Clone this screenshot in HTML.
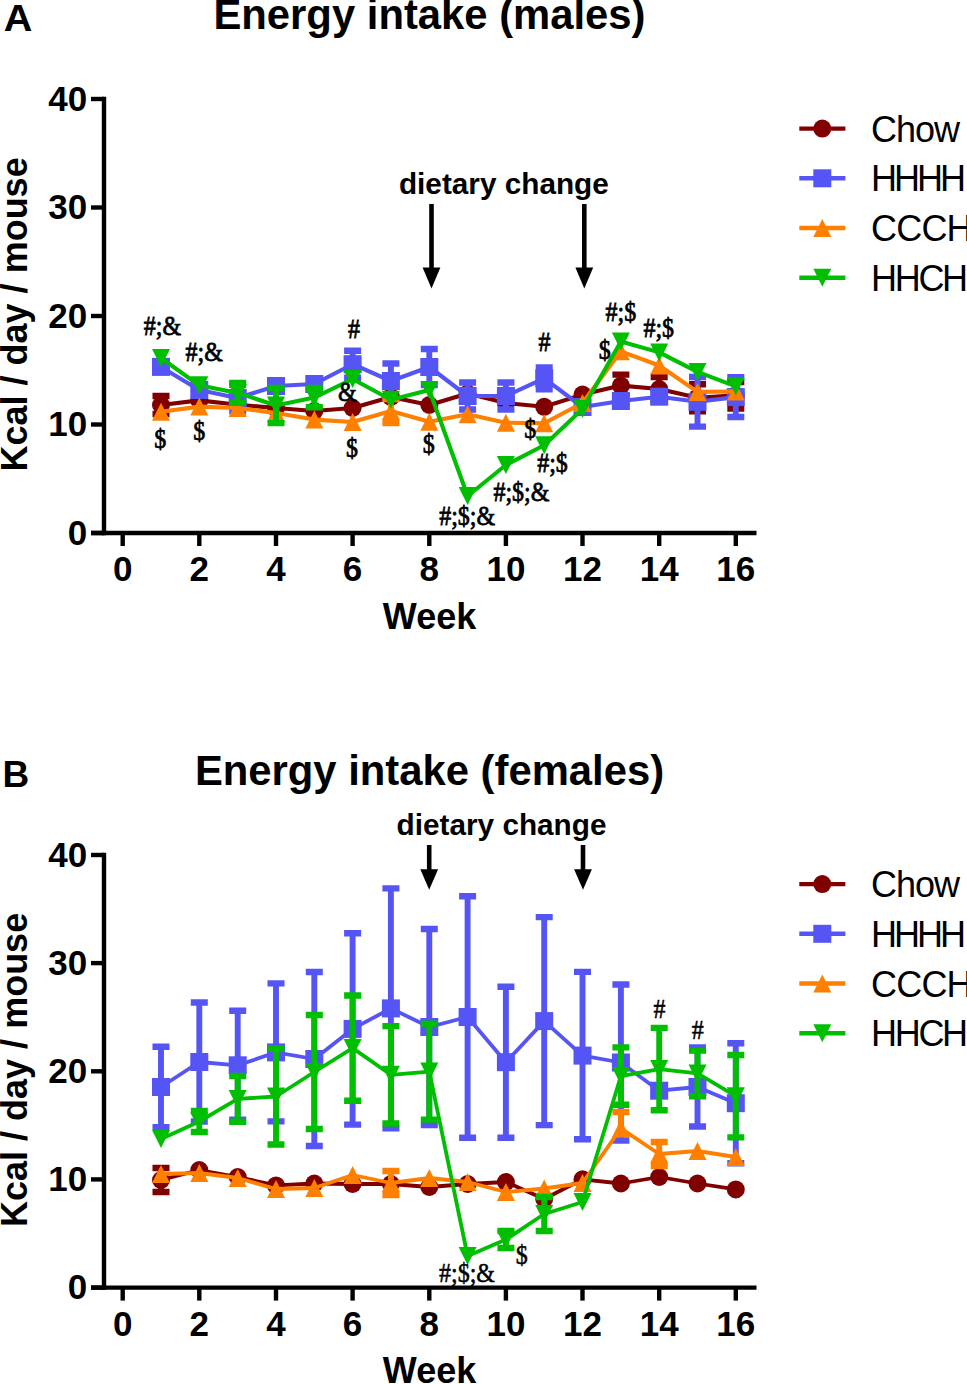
<!DOCTYPE html>
<html><head><meta charset="utf-8"><style>
html,body{margin:0;padding:0;background:#fff;}
body{width:967px;height:1384px;overflow:hidden;}
svg{display:block;}
text{font-family:"Liberation Sans",sans-serif;}
.tick{font-weight:bold;font-size:35px;}
.axl{font-weight:bold;font-size:36px;}
.ttl{font-weight:bold;font-size:41.8px;}
.pl{font-weight:bold;font-size:37px;}
.leg{font-size:36px;}
.dc{font-weight:bold;font-size:29px;}
.sig{font-family:"Liberation Serif",serif;font-weight:bold;font-size:28.2px;letter-spacing:0px;}
</style></head><body>
<svg width="967" height="1384" viewBox="0 0 967 1384">
<rect width="967" height="1384" fill="#fff"/>
<text transform="translate(3.7,31.3) scale(1.07,1)" class="pl">A</text>
<text x="429.5" y="29.3" text-anchor="middle" class="ttl">Energy intake (males)</text>
<path d="M104,96.8V535.2" stroke="#000" stroke-width="4.4"/>
<path d="M91,533H756.5" stroke="#000" stroke-width="4.4"/>
<path d="M91,533.0H104" stroke="#000" stroke-width="4.4"/>
<text x="87.2" y="544.6" text-anchor="end" class="tick">0</text>
<path d="M91,424.5H104" stroke="#000" stroke-width="4.4"/>
<text x="87.2" y="436.1" text-anchor="end" class="tick">10</text>
<path d="M91,316.0H104" stroke="#000" stroke-width="4.4"/>
<text x="87.2" y="327.6" text-anchor="end" class="tick">20</text>
<path d="M91,207.5H104" stroke="#000" stroke-width="4.4"/>
<text x="87.2" y="219.1" text-anchor="end" class="tick">30</text>
<path d="M91,99.0H104" stroke="#000" stroke-width="4.4"/>
<text x="87.2" y="110.6" text-anchor="end" class="tick">40</text>
<path d="M122.7,533V546" stroke="#000" stroke-width="4.4"/>
<text x="122.7" y="581.0" text-anchor="middle" class="tick">0</text>
<path d="M199.3,533V546" stroke="#000" stroke-width="4.4"/>
<text x="199.3" y="581.0" text-anchor="middle" class="tick">2</text>
<path d="M276.0,533V546" stroke="#000" stroke-width="4.4"/>
<text x="276.0" y="581.0" text-anchor="middle" class="tick">4</text>
<path d="M352.6,533V546" stroke="#000" stroke-width="4.4"/>
<text x="352.6" y="581.0" text-anchor="middle" class="tick">6</text>
<path d="M429.3,533V546" stroke="#000" stroke-width="4.4"/>
<text x="429.3" y="581.0" text-anchor="middle" class="tick">8</text>
<path d="M505.9,533V546" stroke="#000" stroke-width="4.4"/>
<text x="505.9" y="581.0" text-anchor="middle" class="tick">10</text>
<path d="M582.5,533V546" stroke="#000" stroke-width="4.4"/>
<text x="582.5" y="581.0" text-anchor="middle" class="tick">12</text>
<path d="M659.2,533V546" stroke="#000" stroke-width="4.4"/>
<text x="659.2" y="581.0" text-anchor="middle" class="tick">14</text>
<path d="M735.8,533V546" stroke="#000" stroke-width="4.4"/>
<text x="735.8" y="581.0" text-anchor="middle" class="tick">16</text>
<text x="429.5" y="628.5" text-anchor="middle" class="axl">Week</text>
<text transform="translate(26.7,314.4) rotate(-90)" text-anchor="middle" class="axl">Kcal / day / mouse</text>
<path d="M799.3,128.6H845.4" stroke="#800000" stroke-width="4.4"/>
<circle cx="822.3" cy="128.6" r="9.0" fill="#800000"/>
<text x="871" y="141.6" class="leg" letter-spacing="-1">Chow</text>
<path d="M799.3,178.3H845.4" stroke="#5555f5" stroke-width="4.4"/>
<rect x="813.3" y="169.3" width="18.0" height="18.0" fill="#5555f5"/>
<text x="871" y="191.3" class="leg" letter-spacing="-3">HHHH</text>
<path d="M799.3,228.0H845.4" stroke="#ff8000" stroke-width="4.4"/>
<polygon points="822.3,219.0 831.3,237.0 813.3,237.0" fill="#ff8000"/>
<text x="871" y="241.0" class="leg" letter-spacing="-0.8">CCCH</text>
<path d="M799.3,277.7H845.4" stroke="#00bf00" stroke-width="4.4"/>
<polygon points="813.3,268.7 831.3,268.7 822.3,286.7" fill="#00bf00"/>
<text x="871" y="290.7" class="leg" letter-spacing="-2.3">HHCH</text>
<text transform="translate(503.85,194.2) scale(1.026,1)" text-anchor="middle" class="dc">dietary change</text>
<path d="M431.5,204V269.6" stroke="#000" stroke-width="4.6"/>
<polygon points="422.6,267.6 440.4,267.6 431.5,288.4" fill="#000"/>
<path d="M584.3,204V269.6" stroke="#000" stroke-width="4.6"/>
<polygon points="575.4,267.6 593.1999999999999,267.6 584.3,288.4" fill="#000"/>
<polyline points="161.0,405.0 199.3,400.4 237.7,404.7 276.0,408.0 314.3,411.0 352.6,408.0 390.9,397.0 429.3,405.0 467.6,393.5 505.9,403.0 544.2,406.8 582.5,394.6 620.9,385.6 659.2,389.0 697.5,397.7 735.8,395.3" fill="none" stroke="#800000" stroke-width="4.1" stroke-linejoin="round"/>
<path d="M161.0,396.0V414.0" stroke="#800000" stroke-width="5.9" fill="none"/>
<path d="M152.5,396.0H169.5M152.5,414.0H169.5" stroke="#800000" stroke-width="6.4" fill="none"/>
<path d="M620.9,374.6V396.6" stroke="#800000" stroke-width="5.9" fill="none"/>
<path d="M612.4,374.6H629.4M612.4,396.6H629.4" stroke="#800000" stroke-width="6.4" fill="none"/>
<path d="M659.2,377.0V401.0" stroke="#800000" stroke-width="5.9" fill="none"/>
<path d="M650.7,377.0H667.7M650.7,401.0H667.7" stroke="#800000" stroke-width="6.4" fill="none"/>
<path d="M697.5,384.2V411.2" stroke="#800000" stroke-width="5.9" fill="none"/>
<path d="M689.0,384.2H706.0M689.0,411.2H706.0" stroke="#800000" stroke-width="6.4" fill="none"/>
<path d="M735.8,382.1V408.5" stroke="#800000" stroke-width="5.9" fill="none"/>
<path d="M727.3,382.1H744.3M727.3,408.5H744.3" stroke="#800000" stroke-width="6.4" fill="none"/>
<circle cx="161.0" cy="405.0" r="9.0" fill="#800000"/>
<circle cx="199.3" cy="400.4" r="9.0" fill="#800000"/>
<circle cx="237.7" cy="404.7" r="9.0" fill="#800000"/>
<circle cx="276.0" cy="408.0" r="9.0" fill="#800000"/>
<circle cx="314.3" cy="411.0" r="9.0" fill="#800000"/>
<circle cx="352.6" cy="408.0" r="9.0" fill="#800000"/>
<circle cx="390.9" cy="397.0" r="9.0" fill="#800000"/>
<circle cx="429.3" cy="405.0" r="9.0" fill="#800000"/>
<circle cx="467.6" cy="393.5" r="9.0" fill="#800000"/>
<circle cx="505.9" cy="403.0" r="9.0" fill="#800000"/>
<circle cx="544.2" cy="406.8" r="9.0" fill="#800000"/>
<circle cx="582.5" cy="394.6" r="9.0" fill="#800000"/>
<circle cx="620.9" cy="385.6" r="9.0" fill="#800000"/>
<circle cx="659.2" cy="389.0" r="9.0" fill="#800000"/>
<circle cx="697.5" cy="397.7" r="9.0" fill="#800000"/>
<circle cx="735.8" cy="395.3" r="9.0" fill="#800000"/>
<polyline points="161.0,366.9 199.3,390.0 237.7,398.0 276.0,386.0 314.3,384.0 352.6,364.2 390.9,381.0 429.3,367.0 467.6,396.0 505.9,396.0 544.2,378.4 582.5,407.0 620.9,401.0 659.2,396.7 697.5,401.8 735.8,397.1" fill="none" stroke="#5555f5" stroke-width="4.1" stroke-linejoin="round"/>
<path d="M237.7,384.7V411.3" stroke="#5555f5" stroke-width="5.9" fill="none"/>
<path d="M229.2,384.7H246.2M229.2,411.3H246.2" stroke="#5555f5" stroke-width="6.4" fill="none"/>
<path d="M352.6,350.7V377.7" stroke="#5555f5" stroke-width="5.9" fill="none"/>
<path d="M344.1,350.7H361.1M344.1,377.7H361.1" stroke="#5555f5" stroke-width="6.4" fill="none"/>
<path d="M390.9,363.5V398.5" stroke="#5555f5" stroke-width="5.9" fill="none"/>
<path d="M382.4,363.5H399.4M382.4,398.5H399.4" stroke="#5555f5" stroke-width="6.4" fill="none"/>
<path d="M429.3,349.0V385.0" stroke="#5555f5" stroke-width="5.9" fill="none"/>
<path d="M420.8,349.0H437.8M420.8,385.0H437.8" stroke="#5555f5" stroke-width="6.4" fill="none"/>
<path d="M467.6,382.5V409.5" stroke="#5555f5" stroke-width="5.9" fill="none"/>
<path d="M459.1,382.5H476.1M459.1,409.5H476.1" stroke="#5555f5" stroke-width="6.4" fill="none"/>
<path d="M505.9,382.5V409.5" stroke="#5555f5" stroke-width="5.9" fill="none"/>
<path d="M497.4,382.5H514.4M497.4,409.5H514.4" stroke="#5555f5" stroke-width="6.4" fill="none"/>
<path d="M544.2,367.4V389.4" stroke="#5555f5" stroke-width="5.9" fill="none"/>
<path d="M535.7,367.4H552.7M535.7,389.4H552.7" stroke="#5555f5" stroke-width="6.4" fill="none"/>
<path d="M697.5,377.0V426.6" stroke="#5555f5" stroke-width="5.9" fill="none"/>
<path d="M689.0,377.0H706.0M689.0,426.6H706.0" stroke="#5555f5" stroke-width="6.4" fill="none"/>
<path d="M735.8,377.2V417.0" stroke="#5555f5" stroke-width="5.9" fill="none"/>
<path d="M727.3,377.2H744.3M727.3,417.0H744.3" stroke="#5555f5" stroke-width="6.4" fill="none"/>
<rect x="152.0" y="357.9" width="18.0" height="18.0" fill="#5555f5"/>
<rect x="190.3" y="381.0" width="18.0" height="18.0" fill="#5555f5"/>
<rect x="228.7" y="389.0" width="18.0" height="18.0" fill="#5555f5"/>
<rect x="267.0" y="377.0" width="18.0" height="18.0" fill="#5555f5"/>
<rect x="305.3" y="375.0" width="18.0" height="18.0" fill="#5555f5"/>
<rect x="343.6" y="355.2" width="18.0" height="18.0" fill="#5555f5"/>
<rect x="381.9" y="372.0" width="18.0" height="18.0" fill="#5555f5"/>
<rect x="420.3" y="358.0" width="18.0" height="18.0" fill="#5555f5"/>
<rect x="458.6" y="387.0" width="18.0" height="18.0" fill="#5555f5"/>
<rect x="496.9" y="387.0" width="18.0" height="18.0" fill="#5555f5"/>
<rect x="535.2" y="369.4" width="18.0" height="18.0" fill="#5555f5"/>
<rect x="573.5" y="398.0" width="18.0" height="18.0" fill="#5555f5"/>
<rect x="611.9" y="392.0" width="18.0" height="18.0" fill="#5555f5"/>
<rect x="650.2" y="387.7" width="18.0" height="18.0" fill="#5555f5"/>
<rect x="688.5" y="392.8" width="18.0" height="18.0" fill="#5555f5"/>
<rect x="726.8" y="388.1" width="18.0" height="18.0" fill="#5555f5"/>
<polyline points="161.0,411.7 199.3,406.6 237.7,408.0 276.0,413.0 314.3,419.6 352.6,422.0 390.9,411.0 429.3,421.7 467.6,414.3 505.9,422.7 544.2,423.3 582.5,403.0 620.9,351.3 659.2,365.5 697.5,391.9 735.8,391.5" fill="none" stroke="#ff8000" stroke-width="4.1" stroke-linejoin="round"/>
<path d="M390.9,399.0V423.0" stroke="#ff8000" stroke-width="5.9" fill="none"/>
<path d="M382.4,399.0H399.4M382.4,423.0H399.4" stroke="#ff8000" stroke-width="6.4" fill="none"/>
<polygon points="161.0,402.7 170.0,420.7 152.0,420.7" fill="#ff8000"/>
<polygon points="199.3,397.6 208.3,415.6 190.3,415.6" fill="#ff8000"/>
<polygon points="237.7,399.0 246.7,417.0 228.7,417.0" fill="#ff8000"/>
<polygon points="276.0,404.0 285.0,422.0 267.0,422.0" fill="#ff8000"/>
<polygon points="314.3,410.6 323.3,428.6 305.3,428.6" fill="#ff8000"/>
<polygon points="352.6,413.0 361.6,431.0 343.6,431.0" fill="#ff8000"/>
<polygon points="390.9,402.0 399.9,420.0 381.9,420.0" fill="#ff8000"/>
<polygon points="429.3,412.7 438.3,430.7 420.3,430.7" fill="#ff8000"/>
<polygon points="467.6,405.3 476.6,423.3 458.6,423.3" fill="#ff8000"/>
<polygon points="505.9,413.7 514.9,431.7 496.9,431.7" fill="#ff8000"/>
<polygon points="544.2,414.3 553.2,432.3 535.2,432.3" fill="#ff8000"/>
<polygon points="582.5,394.0 591.5,412.0 573.5,412.0" fill="#ff8000"/>
<polygon points="620.9,342.3 629.9,360.3 611.9,360.3" fill="#ff8000"/>
<polygon points="659.2,356.5 668.2,374.5 650.2,374.5" fill="#ff8000"/>
<polygon points="697.5,382.9 706.5,400.9 688.5,400.9" fill="#ff8000"/>
<polygon points="735.8,382.5 744.8,400.5 726.8,400.5" fill="#ff8000"/>
<polyline points="161.0,358.0 199.3,385.3 237.7,392.9 276.0,405.5 314.3,397.6 352.6,379.0 390.9,399.8 429.3,390.0 467.6,496.0 505.9,465.0 544.2,445.3 582.5,408.9 620.9,341.5 659.2,352.4 697.5,371.9 735.8,386.3" fill="none" stroke="#00bf00" stroke-width="4.1" stroke-linejoin="round"/>
<path d="M237.7,382.9V402.9" stroke="#00bf00" stroke-width="5.9" fill="none"/>
<path d="M229.2,382.9H246.2M229.2,402.9H246.2" stroke="#00bf00" stroke-width="6.4" fill="none"/>
<path d="M276.0,387.9V423.1" stroke="#00bf00" stroke-width="5.9" fill="none"/>
<path d="M267.5,387.9H284.5M267.5,423.1H284.5" stroke="#00bf00" stroke-width="6.4" fill="none"/>
<path d="M314.3,388.0V407.2" stroke="#00bf00" stroke-width="5.9" fill="none"/>
<path d="M305.8,388.0H322.8M305.8,407.2H322.8" stroke="#00bf00" stroke-width="6.4" fill="none"/>
<polygon points="152.0,349.0 170.0,349.0 161.0,367.0" fill="#00bf00"/>
<polygon points="190.3,376.3 208.3,376.3 199.3,394.3" fill="#00bf00"/>
<polygon points="228.7,383.9 246.7,383.9 237.7,401.9" fill="#00bf00"/>
<polygon points="267.0,396.5 285.0,396.5 276.0,414.5" fill="#00bf00"/>
<polygon points="305.3,388.6 323.3,388.6 314.3,406.6" fill="#00bf00"/>
<polygon points="343.6,370.0 361.6,370.0 352.6,388.0" fill="#00bf00"/>
<polygon points="381.9,390.8 399.9,390.8 390.9,408.8" fill="#00bf00"/>
<polygon points="420.3,381.0 438.3,381.0 429.3,399.0" fill="#00bf00"/>
<polygon points="458.6,487.0 476.6,487.0 467.6,505.0" fill="#00bf00"/>
<polygon points="496.9,456.0 514.9,456.0 505.9,474.0" fill="#00bf00"/>
<polygon points="535.2,436.3 553.2,436.3 544.2,454.3" fill="#00bf00"/>
<polygon points="573.5,399.9 591.5,399.9 582.5,417.9" fill="#00bf00"/>
<polygon points="611.9,332.5 629.9,332.5 620.9,350.5" fill="#00bf00"/>
<polygon points="650.2,343.4 668.2,343.4 659.2,361.4" fill="#00bf00"/>
<polygon points="688.5,362.9 706.5,362.9 697.5,380.9" fill="#00bf00"/>
<polygon points="726.8,377.3 744.8,377.3 735.8,395.3" fill="#00bf00"/>
<text transform="translate(162.4,334.9) scale(0.85,1)" class="sig" text-anchor="middle" style="font-weight:normal;stroke:#000;stroke-width:0.8px">#;&amp;</text>
<text transform="translate(204.2,361.2) scale(0.85,1)" class="sig" text-anchor="middle" style="font-weight:normal;stroke:#000;stroke-width:0.8px">#;&amp;</text>
<text transform="translate(160.2,448.2) scale(0.85,1)" class="sig" text-anchor="middle" style="font-weight:normal;stroke:#000;stroke-width:0.8px">$</text>
<text transform="translate(199.2,440.0) scale(0.85,1)" class="sig" text-anchor="middle" style="font-weight:normal;stroke:#000;stroke-width:0.8px">$</text>
<text transform="translate(354.0,338.4) scale(0.85,1)" class="sig" text-anchor="middle" style="font-weight:normal;stroke:#000;stroke-width:0.8px">#</text>
<text transform="translate(347.3,401.0) scale(0.85,1)" class="sig" text-anchor="middle" style="font-weight:normal;stroke:#000;stroke-width:0.8px">&amp;</text>
<text transform="translate(352.0,457.3) scale(0.85,1)" class="sig" text-anchor="middle" style="font-weight:normal;stroke:#000;stroke-width:0.8px">$</text>
<text transform="translate(428.8,453.2) scale(0.85,1)" class="sig" text-anchor="middle" style="font-weight:normal;stroke:#000;stroke-width:0.8px">$</text>
<text transform="translate(467.1,524.6) scale(0.85,1)" class="sig" text-anchor="middle" style="font-weight:normal;stroke:#000;stroke-width:0.8px">#;$;&amp;</text>
<text transform="translate(521.4,500.8) scale(0.85,1)" class="sig" text-anchor="middle" style="font-weight:normal;stroke:#000;stroke-width:0.8px">#;$;&amp;</text>
<text transform="translate(544.5,350.8) scale(0.85,1)" class="sig" text-anchor="middle" style="font-weight:normal;stroke:#000;stroke-width:0.8px">#</text>
<text transform="translate(530.3,438.0) scale(0.85,1)" class="sig" text-anchor="middle" style="font-weight:normal;stroke:#000;stroke-width:0.8px">$</text>
<text transform="translate(552.5,472.0) scale(0.85,1)" class="sig" text-anchor="middle" style="font-weight:normal;stroke:#000;stroke-width:0.8px">#;$</text>
<text transform="translate(604.7,359.2) scale(0.85,1)" class="sig" text-anchor="middle" style="font-weight:normal;stroke:#000;stroke-width:0.8px">$</text>
<text transform="translate(620.9,320.8) scale(0.85,1)" class="sig" text-anchor="middle" style="font-weight:normal;stroke:#000;stroke-width:0.8px">#;$</text>
<text transform="translate(658.8,337.3) scale(0.85,1)" class="sig" text-anchor="middle" style="font-weight:normal;stroke:#000;stroke-width:0.8px">#;$</text>
<text x="2.6" y="786.8" class="pl">B</text>
<text x="429.5" y="784.7" text-anchor="middle" class="ttl">Energy intake (females)</text>
<path d="M104,852.8V1289.8" stroke="#000" stroke-width="4.4"/>
<path d="M91,1287.6H756.5" stroke="#000" stroke-width="4.4"/>
<path d="M91,1287.6H104" stroke="#000" stroke-width="4.4"/>
<text x="87.2" y="1299.2" text-anchor="end" class="tick">0</text>
<path d="M91,1179.4H104" stroke="#000" stroke-width="4.4"/>
<text x="87.2" y="1191.0" text-anchor="end" class="tick">10</text>
<path d="M91,1071.3H104" stroke="#000" stroke-width="4.4"/>
<text x="87.2" y="1082.9" text-anchor="end" class="tick">20</text>
<path d="M91,963.1H104" stroke="#000" stroke-width="4.4"/>
<text x="87.2" y="974.8" text-anchor="end" class="tick">30</text>
<path d="M91,855.0H104" stroke="#000" stroke-width="4.4"/>
<text x="87.2" y="866.6" text-anchor="end" class="tick">40</text>
<path d="M122.7,1287.6V1300.6" stroke="#000" stroke-width="4.4"/>
<text x="122.7" y="1335.6" text-anchor="middle" class="tick">0</text>
<path d="M199.3,1287.6V1300.6" stroke="#000" stroke-width="4.4"/>
<text x="199.3" y="1335.6" text-anchor="middle" class="tick">2</text>
<path d="M276.0,1287.6V1300.6" stroke="#000" stroke-width="4.4"/>
<text x="276.0" y="1335.6" text-anchor="middle" class="tick">4</text>
<path d="M352.6,1287.6V1300.6" stroke="#000" stroke-width="4.4"/>
<text x="352.6" y="1335.6" text-anchor="middle" class="tick">6</text>
<path d="M429.3,1287.6V1300.6" stroke="#000" stroke-width="4.4"/>
<text x="429.3" y="1335.6" text-anchor="middle" class="tick">8</text>
<path d="M505.9,1287.6V1300.6" stroke="#000" stroke-width="4.4"/>
<text x="505.9" y="1335.6" text-anchor="middle" class="tick">10</text>
<path d="M582.5,1287.6V1300.6" stroke="#000" stroke-width="4.4"/>
<text x="582.5" y="1335.6" text-anchor="middle" class="tick">12</text>
<path d="M659.2,1287.6V1300.6" stroke="#000" stroke-width="4.4"/>
<text x="659.2" y="1335.6" text-anchor="middle" class="tick">14</text>
<path d="M735.8,1287.6V1300.6" stroke="#000" stroke-width="4.4"/>
<text x="735.8" y="1335.6" text-anchor="middle" class="tick">16</text>
<text x="429.5" y="1383.1" text-anchor="middle" class="axl">Week</text>
<text transform="translate(26.7,1069.9) rotate(-90)" text-anchor="middle" class="axl">Kcal / day / mouse</text>
<path d="M799.3,884.1H845.4" stroke="#800000" stroke-width="4.4"/>
<circle cx="822.3" cy="884.1" r="9.0" fill="#800000"/>
<text x="871" y="897.1" class="leg" letter-spacing="-1">Chow</text>
<path d="M799.3,933.8H845.4" stroke="#5555f5" stroke-width="4.4"/>
<rect x="813.3" y="924.8" width="18.0" height="18.0" fill="#5555f5"/>
<text x="871" y="946.8" class="leg" letter-spacing="-3">HHHH</text>
<path d="M799.3,983.5H845.4" stroke="#ff8000" stroke-width="4.4"/>
<polygon points="822.3,974.5 831.3,992.5 813.3,992.5" fill="#ff8000"/>
<text x="871" y="996.5" class="leg" letter-spacing="-0.8">CCCH</text>
<path d="M799.3,1033.2H845.4" stroke="#00bf00" stroke-width="4.4"/>
<polygon points="813.3,1024.2 831.3,1024.2 822.3,1042.2" fill="#00bf00"/>
<text x="871" y="1046.2" class="leg" letter-spacing="-2.3">HHCH</text>
<text transform="translate(501.55,834.8) scale(1.026,1)" text-anchor="middle" class="dc">dietary change</text>
<path d="M429.2,845V871.2" stroke="#000" stroke-width="4.6"/>
<polygon points="420.3,869.2 438.09999999999997,869.2 429.2,889.8" fill="#000"/>
<path d="M583,845V871.2" stroke="#000" stroke-width="4.6"/>
<polygon points="574.1,869.2 591.9,869.2 583,889.8" fill="#000"/>
<polyline points="161.0,1180.0 199.3,1170.0 237.7,1177.0 276.0,1185.4 314.3,1183.5 352.6,1184.0 390.9,1184.0 429.3,1187.0 467.6,1184.0 505.9,1182.0 544.2,1199.0 582.5,1179.3 620.9,1183.5 659.2,1177.0 697.5,1183.5 735.8,1189.4" fill="none" stroke="#800000" stroke-width="3.8" stroke-linejoin="round"/>
<path d="M161.0,1168.0V1192.0" stroke="#800000" stroke-width="5.9" fill="none"/>
<path d="M152.5,1168.0H169.5M152.5,1192.0H169.5" stroke="#800000" stroke-width="6.4" fill="none"/>
<circle cx="161.0" cy="1180.0" r="9.0" fill="#800000"/>
<circle cx="199.3" cy="1170.0" r="9.0" fill="#800000"/>
<circle cx="237.7" cy="1177.0" r="9.0" fill="#800000"/>
<circle cx="276.0" cy="1185.4" r="9.0" fill="#800000"/>
<circle cx="314.3" cy="1183.5" r="9.0" fill="#800000"/>
<circle cx="352.6" cy="1184.0" r="9.0" fill="#800000"/>
<circle cx="390.9" cy="1184.0" r="9.0" fill="#800000"/>
<circle cx="429.3" cy="1187.0" r="9.0" fill="#800000"/>
<circle cx="467.6" cy="1184.0" r="9.0" fill="#800000"/>
<circle cx="505.9" cy="1182.0" r="9.0" fill="#800000"/>
<circle cx="544.2" cy="1199.0" r="9.0" fill="#800000"/>
<circle cx="582.5" cy="1179.3" r="9.0" fill="#800000"/>
<circle cx="620.9" cy="1183.5" r="9.0" fill="#800000"/>
<circle cx="659.2" cy="1177.0" r="9.0" fill="#800000"/>
<circle cx="697.5" cy="1183.5" r="9.0" fill="#800000"/>
<circle cx="735.8" cy="1189.4" r="9.0" fill="#800000"/>
<polyline points="161.0,1087.0 199.3,1062.0 237.7,1065.3 276.0,1052.4 314.3,1059.0 352.6,1028.9 390.9,1008.4 429.3,1027.0 467.6,1017.0 505.9,1062.2 544.2,1021.1 582.5,1055.6 620.9,1062.5 659.2,1090.7 697.5,1087.0 735.8,1103.2" fill="none" stroke="#5555f5" stroke-width="3.8" stroke-linejoin="round"/>
<path d="M161.0,1046.7V1127.3" stroke="#5555f5" stroke-width="5.9" fill="none"/>
<path d="M152.5,1046.7H169.5M152.5,1127.3H169.5" stroke="#5555f5" stroke-width="6.4" fill="none"/>
<path d="M199.3,1002.5V1121.5" stroke="#5555f5" stroke-width="5.9" fill="none"/>
<path d="M190.8,1002.5H207.8M190.8,1121.5H207.8" stroke="#5555f5" stroke-width="6.4" fill="none"/>
<path d="M237.7,1010.8V1119.8" stroke="#5555f5" stroke-width="5.9" fill="none"/>
<path d="M229.2,1010.8H246.2M229.2,1119.8H246.2" stroke="#5555f5" stroke-width="6.4" fill="none"/>
<path d="M276.0,983.4V1121.4" stroke="#5555f5" stroke-width="5.9" fill="none"/>
<path d="M267.5,983.4H284.5M267.5,1121.4H284.5" stroke="#5555f5" stroke-width="6.4" fill="none"/>
<path d="M314.3,972.0V1146.0" stroke="#5555f5" stroke-width="5.9" fill="none"/>
<path d="M305.8,972.0H322.8M305.8,1146.0H322.8" stroke="#5555f5" stroke-width="6.4" fill="none"/>
<path d="M352.6,933.2V1124.6" stroke="#5555f5" stroke-width="5.9" fill="none"/>
<path d="M344.1,933.2H361.1M344.1,1124.6H361.1" stroke="#5555f5" stroke-width="6.4" fill="none"/>
<path d="M390.9,888.4V1128.4" stroke="#5555f5" stroke-width="5.9" fill="none"/>
<path d="M382.4,888.4H399.4M382.4,1128.4H399.4" stroke="#5555f5" stroke-width="6.4" fill="none"/>
<path d="M429.3,929.0V1125.0" stroke="#5555f5" stroke-width="5.9" fill="none"/>
<path d="M420.8,929.0H437.8M420.8,1125.0H437.8" stroke="#5555f5" stroke-width="6.4" fill="none"/>
<path d="M467.6,896.3V1137.7" stroke="#5555f5" stroke-width="5.9" fill="none"/>
<path d="M459.1,896.3H476.1M459.1,1137.7H476.1" stroke="#5555f5" stroke-width="6.4" fill="none"/>
<path d="M505.9,986.7V1137.7" stroke="#5555f5" stroke-width="5.9" fill="none"/>
<path d="M497.4,986.7H514.4M497.4,1137.7H514.4" stroke="#5555f5" stroke-width="6.4" fill="none"/>
<path d="M544.2,917.1V1125.1" stroke="#5555f5" stroke-width="5.9" fill="none"/>
<path d="M535.7,917.1H552.7M535.7,1125.1H552.7" stroke="#5555f5" stroke-width="6.4" fill="none"/>
<path d="M582.5,971.9V1139.3" stroke="#5555f5" stroke-width="5.9" fill="none"/>
<path d="M574.0,971.9H591.0M574.0,1139.3H591.0" stroke="#5555f5" stroke-width="6.4" fill="none"/>
<path d="M620.9,984.5V1140.5" stroke="#5555f5" stroke-width="5.9" fill="none"/>
<path d="M612.4,984.5H629.4M612.4,1140.5H629.4" stroke="#5555f5" stroke-width="6.4" fill="none"/>
<path d="M659.2,1085.7V1095.7" stroke="#5555f5" stroke-width="5.9" fill="none"/>
<path d="M650.7,1085.7H667.7M650.7,1095.7H667.7" stroke="#5555f5" stroke-width="6.4" fill="none"/>
<path d="M697.5,1047.5V1126.5" stroke="#5555f5" stroke-width="5.9" fill="none"/>
<path d="M689.0,1047.5H706.0M689.0,1126.5H706.0" stroke="#5555f5" stroke-width="6.4" fill="none"/>
<path d="M735.8,1043.2V1163.2" stroke="#5555f5" stroke-width="5.9" fill="none"/>
<path d="M727.3,1043.2H744.3M727.3,1163.2H744.3" stroke="#5555f5" stroke-width="6.4" fill="none"/>
<rect x="152.0" y="1078.0" width="18.0" height="18.0" fill="#5555f5"/>
<rect x="190.3" y="1053.0" width="18.0" height="18.0" fill="#5555f5"/>
<rect x="228.7" y="1056.3" width="18.0" height="18.0" fill="#5555f5"/>
<rect x="267.0" y="1043.4" width="18.0" height="18.0" fill="#5555f5"/>
<rect x="305.3" y="1050.0" width="18.0" height="18.0" fill="#5555f5"/>
<rect x="343.6" y="1019.9" width="18.0" height="18.0" fill="#5555f5"/>
<rect x="381.9" y="999.4" width="18.0" height="18.0" fill="#5555f5"/>
<rect x="420.3" y="1018.0" width="18.0" height="18.0" fill="#5555f5"/>
<rect x="458.6" y="1008.0" width="18.0" height="18.0" fill="#5555f5"/>
<rect x="496.9" y="1053.2" width="18.0" height="18.0" fill="#5555f5"/>
<rect x="535.2" y="1012.1" width="18.0" height="18.0" fill="#5555f5"/>
<rect x="573.5" y="1046.6" width="18.0" height="18.0" fill="#5555f5"/>
<rect x="611.9" y="1053.5" width="18.0" height="18.0" fill="#5555f5"/>
<rect x="650.2" y="1081.7" width="18.0" height="18.0" fill="#5555f5"/>
<rect x="688.5" y="1078.0" width="18.0" height="18.0" fill="#5555f5"/>
<rect x="726.8" y="1094.2" width="18.0" height="18.0" fill="#5555f5"/>
<polyline points="161.0,1174.0 199.3,1173.0 237.7,1178.0 276.0,1189.0 314.3,1188.0 352.6,1175.0 390.9,1183.0 429.3,1178.0 467.6,1182.0 505.9,1192.0 544.2,1188.5 582.5,1183.0 620.9,1128.4 659.2,1154.0 697.5,1151.0 735.8,1157.0" fill="none" stroke="#ff8000" stroke-width="3.8" stroke-linejoin="round"/>
<path d="M390.9,1171.0V1195.0" stroke="#ff8000" stroke-width="5.9" fill="none"/>
<path d="M382.4,1171.0H399.4M382.4,1195.0H399.4" stroke="#ff8000" stroke-width="6.4" fill="none"/>
<path d="M620.9,1112.0V1128.4" stroke="#ff8000" stroke-width="5.9" fill="none"/>
<path d="M612.4,1112.0H629.4" stroke="#ff8000" stroke-width="6.4" fill="none"/>
<path d="M659.2,1142.0V1166.0" stroke="#ff8000" stroke-width="5.9" fill="none"/>
<path d="M650.7,1142.0H667.7M650.7,1166.0H667.7" stroke="#ff8000" stroke-width="6.4" fill="none"/>
<polygon points="161.0,1165.0 170.0,1183.0 152.0,1183.0" fill="#ff8000"/>
<polygon points="199.3,1164.0 208.3,1182.0 190.3,1182.0" fill="#ff8000"/>
<polygon points="237.7,1169.0 246.7,1187.0 228.7,1187.0" fill="#ff8000"/>
<polygon points="276.0,1180.0 285.0,1198.0 267.0,1198.0" fill="#ff8000"/>
<polygon points="314.3,1179.0 323.3,1197.0 305.3,1197.0" fill="#ff8000"/>
<polygon points="352.6,1166.0 361.6,1184.0 343.6,1184.0" fill="#ff8000"/>
<polygon points="390.9,1174.0 399.9,1192.0 381.9,1192.0" fill="#ff8000"/>
<polygon points="429.3,1169.0 438.3,1187.0 420.3,1187.0" fill="#ff8000"/>
<polygon points="467.6,1173.0 476.6,1191.0 458.6,1191.0" fill="#ff8000"/>
<polygon points="505.9,1183.0 514.9,1201.0 496.9,1201.0" fill="#ff8000"/>
<polygon points="544.2,1179.5 553.2,1197.5 535.2,1197.5" fill="#ff8000"/>
<polygon points="582.5,1174.0 591.5,1192.0 573.5,1192.0" fill="#ff8000"/>
<polygon points="620.9,1119.4 629.9,1137.4 611.9,1137.4" fill="#ff8000"/>
<polygon points="659.2,1145.0 668.2,1163.0 650.2,1163.0" fill="#ff8000"/>
<polygon points="697.5,1142.0 706.5,1160.0 688.5,1160.0" fill="#ff8000"/>
<polygon points="735.8,1148.0 744.8,1166.0 726.8,1166.0" fill="#ff8000"/>
<polyline points="161.0,1139.0 199.3,1121.5 237.7,1098.9 276.0,1096.5 314.3,1072.0 352.6,1048.1 390.9,1074.8 429.3,1071.6 467.6,1256.0 505.9,1239.5 544.2,1214.0 582.5,1202.0 620.9,1076.1 659.2,1069.1 697.5,1073.4 735.8,1096.2" fill="none" stroke="#00bf00" stroke-width="3.8" stroke-linejoin="round"/>
<path d="M199.3,1111.0V1132.0" stroke="#00bf00" stroke-width="5.9" fill="none"/>
<path d="M190.8,1111.0H207.8M190.8,1132.0H207.8" stroke="#00bf00" stroke-width="6.4" fill="none"/>
<path d="M237.7,1076.0V1121.8" stroke="#00bf00" stroke-width="5.9" fill="none"/>
<path d="M229.2,1076.0H246.2M229.2,1121.8H246.2" stroke="#00bf00" stroke-width="6.4" fill="none"/>
<path d="M276.0,1048.5V1144.5" stroke="#00bf00" stroke-width="5.9" fill="none"/>
<path d="M267.5,1048.5H284.5M267.5,1144.5H284.5" stroke="#00bf00" stroke-width="6.4" fill="none"/>
<path d="M314.3,1015.0V1129.0" stroke="#00bf00" stroke-width="5.9" fill="none"/>
<path d="M305.8,1015.0H322.8M305.8,1129.0H322.8" stroke="#00bf00" stroke-width="6.4" fill="none"/>
<path d="M352.6,995.5V1100.7" stroke="#00bf00" stroke-width="5.9" fill="none"/>
<path d="M344.1,995.5H361.1M344.1,1100.7H361.1" stroke="#00bf00" stroke-width="6.4" fill="none"/>
<path d="M390.9,1026.1V1123.5" stroke="#00bf00" stroke-width="5.9" fill="none"/>
<path d="M382.4,1026.1H399.4M382.4,1123.5H399.4" stroke="#00bf00" stroke-width="6.4" fill="none"/>
<path d="M429.3,1023.6V1119.6" stroke="#00bf00" stroke-width="5.9" fill="none"/>
<path d="M420.8,1023.6H437.8M420.8,1119.6H437.8" stroke="#00bf00" stroke-width="6.4" fill="none"/>
<path d="M505.9,1231.0V1248.0" stroke="#00bf00" stroke-width="5.9" fill="none"/>
<path d="M497.4,1231.0H514.4M497.4,1248.0H514.4" stroke="#00bf00" stroke-width="6.4" fill="none"/>
<path d="M544.2,1197.0V1231.0" stroke="#00bf00" stroke-width="5.9" fill="none"/>
<path d="M535.7,1197.0H552.7M535.7,1231.0H552.7" stroke="#00bf00" stroke-width="6.4" fill="none"/>
<path d="M620.9,1047.4V1104.8" stroke="#00bf00" stroke-width="5.9" fill="none"/>
<path d="M612.4,1047.4H629.4M612.4,1104.8H629.4" stroke="#00bf00" stroke-width="6.4" fill="none"/>
<path d="M659.2,1027.9V1110.3" stroke="#00bf00" stroke-width="5.9" fill="none"/>
<path d="M650.7,1027.9H667.7M650.7,1110.3H667.7" stroke="#00bf00" stroke-width="6.4" fill="none"/>
<path d="M697.5,1050.6V1096.2" stroke="#00bf00" stroke-width="5.9" fill="none"/>
<path d="M689.0,1050.6H706.0M689.0,1096.2H706.0" stroke="#00bf00" stroke-width="6.4" fill="none"/>
<path d="M735.8,1055.0V1137.4" stroke="#00bf00" stroke-width="5.9" fill="none"/>
<path d="M727.3,1055.0H744.3M727.3,1137.4H744.3" stroke="#00bf00" stroke-width="6.4" fill="none"/>
<polygon points="152.0,1130.0 170.0,1130.0 161.0,1148.0" fill="#00bf00"/>
<polygon points="190.3,1112.5 208.3,1112.5 199.3,1130.5" fill="#00bf00"/>
<polygon points="228.7,1089.9 246.7,1089.9 237.7,1107.9" fill="#00bf00"/>
<polygon points="267.0,1087.5 285.0,1087.5 276.0,1105.5" fill="#00bf00"/>
<polygon points="305.3,1063.0 323.3,1063.0 314.3,1081.0" fill="#00bf00"/>
<polygon points="343.6,1039.1 361.6,1039.1 352.6,1057.1" fill="#00bf00"/>
<polygon points="381.9,1065.8 399.9,1065.8 390.9,1083.8" fill="#00bf00"/>
<polygon points="420.3,1062.6 438.3,1062.6 429.3,1080.6" fill="#00bf00"/>
<polygon points="458.6,1247.0 476.6,1247.0 467.6,1265.0" fill="#00bf00"/>
<polygon points="496.9,1230.5 514.9,1230.5 505.9,1248.5" fill="#00bf00"/>
<polygon points="535.2,1205.0 553.2,1205.0 544.2,1223.0" fill="#00bf00"/>
<polygon points="573.5,1193.0 591.5,1193.0 582.5,1211.0" fill="#00bf00"/>
<polygon points="611.9,1067.1 629.9,1067.1 620.9,1085.1" fill="#00bf00"/>
<polygon points="650.2,1060.1 668.2,1060.1 659.2,1078.1" fill="#00bf00"/>
<polygon points="688.5,1064.4 706.5,1064.4 697.5,1082.4" fill="#00bf00"/>
<polygon points="726.8,1087.2 744.8,1087.2 735.8,1105.2" fill="#00bf00"/>
<text transform="translate(467.0,1282.4) scale(0.85,1)" class="sig" text-anchor="middle" style="font-weight:normal;stroke:#000;stroke-width:0.55px">#;$;&amp;</text>
<text transform="translate(521.8,1264.0) scale(0.85,1)" class="sig" text-anchor="middle" style="font-weight:normal;stroke:#000;stroke-width:0.55px">$</text>
<text transform="translate(659.4,1018.0) scale(0.85,1)" class="sig" text-anchor="middle" style="font-weight:normal;stroke:#000;stroke-width:0.55px">#</text>
<text transform="translate(697.8,1039.2) scale(0.85,1)" class="sig" text-anchor="middle" style="font-weight:normal;stroke:#000;stroke-width:0.55px">#</text>
</svg>
</body></html>
